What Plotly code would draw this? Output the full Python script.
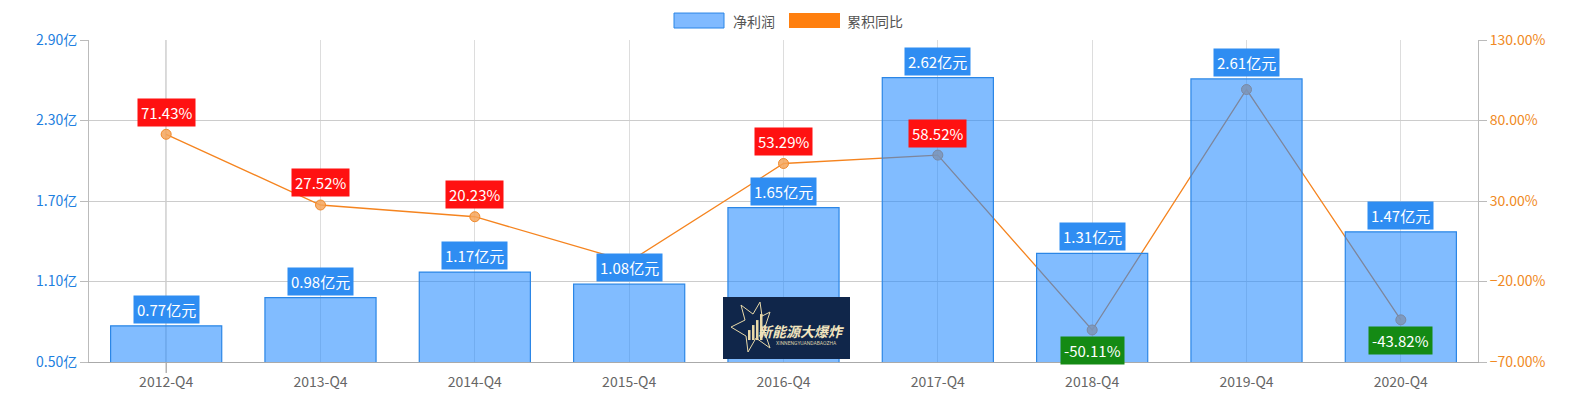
import plotly.graph_objects as go

categories = ["2012-Q4", "2013-Q4", "2014-Q4", "2015-Q4", "2016-Q4", "2017-Q4", "2018-Q4", "2019-Q4", "2020-Q4"]
net_profit = [0.77, 0.98, 1.17, 1.08, 1.65, 2.62, 1.31, 2.61, 1.47]          # 亿元
yoy_growth = [71.43, 27.52, 20.23, -7.69, 53.29, 58.52, -50.11, 99.24, -43.82]  # %
show_yoy_label = [True, True, True, False, True, True, True, False, True]

OFF = 8                      # page body margin
W, H = 1576 - 2 * OFF, 402 - 2 * OFF
L, R, T, B = 89, 1478, 39.5, 362   # plot area in screen pixels
FONT = "Noto Sans CJK SC, Microsoft YaHei, sans-serif"


def px(x):
    return (x - L) / (R - L)


def py(y):
    return (B - y) / (B - T)


fig = go.Figure()

# Line first (primary y, right side) so the translucent bars sit on top
fig.add_trace(go.Scatter(
    x=categories, y=yoy_growth, name="累积同比", yaxis="y",
    mode="lines+markers",
    line=dict(color="#F5841F", width=1.3),
    marker=dict(size=10, color="rgba(245,165,90,0.85)", line=dict(color="#F0892A", width=1)),
    showlegend=False,
))

fig.add_trace(go.Bar(
    x=categories, y=net_profit, name="净利润", yaxis="y2",
    marker=dict(color="rgba(30,136,255,0.56)", line=dict(color="#2B86E6", width=1.2)),
    showlegend=False,
))

annotations = []
for c, v in zip(categories, net_profit):
    annotations.append(dict(
        x=c, y=v, xref="x", yref="y2", yshift=16.5, showarrow=False,
        xanchor="center", yanchor="middle",
        text=f"{v:.2f}亿元", font=dict(color="white", size=15, family=FONT),
        bgcolor="#2F8DF2", borderpad=3,
    ))
for c, v, s in zip(categories, yoy_growth, show_yoy_label):
    if not s:
        continue
    annotations.append(dict(
        x=c, y=v, xref="x", yref="y", yshift=22 if v >= 0 else -21, showarrow=False,
        xanchor="center", yanchor="middle",
        text=f"{v:.2f}%", font=dict(color="white", size=15, family=FONT),
        bgcolor="#FF1111" if v >= 0 else "#148A14", borderpad=3,
    ))

# custom legend
annotations.append(dict(x=px(731), y=py(20), xref="paper", yref="paper", xanchor="left", yanchor="middle",
                        showarrow=False, text="净利润", font=dict(color="#555", size=14, family=FONT)))
annotations.append(dict(x=px(845), y=py(20), xref="paper", yref="paper", xanchor="left", yanchor="middle",
                        showarrow=False, text="累积同比", font=dict(color="#555", size=14, family=FONT)))
# watermark logo text
annotations.append(dict(x=px(802), y=py(331), xref="paper", yref="paper", xanchor="center", yanchor="middle",
                        showarrow=False, text="<b><i>新能源大爆炸</i></b>",
                        font=dict(color="#F1E4BE", size=14, family=FONT)))
annotations.append(dict(x=px(806), y=py(343), xref="paper", yref="paper", xanchor="center", yanchor="middle",
                        showarrow=False, text="XINNENGYUANDABAOZHA",
                        font=dict(color="#D8CCA8", size=5, family="Roboto")))

star = [(731, 327), (745, 320), (741, 305), (753, 314), (760, 302), (762, 316), (770, 312),
        (764, 330), (770, 348), (756, 338), (748, 352), (746, 336)]
star_path = "M " + " L ".join(f"{px(x)} {py(y)}" for x, y in star) + " Z"

shapes = [
    # crosshair on first category
    dict(type="line", xref="x", yref="paper", x0=categories[0], x1=categories[0], y0=py(373), y1=1,
         line=dict(color="#8C8C8C", width=1), layer="below"),
    # legend swatches
    dict(type="rect", xref="paper", yref="paper", x0=px(674), x1=px(724), y0=py(27.5), y1=py(12.5),
         fillcolor="#80BAFF", line=dict(color="#2B86E6", width=1)),
    dict(type="rect", xref="paper", yref="paper", x0=px(789), x1=px(840), y0=py(27.5), y1=py(12.5),
         fillcolor="#FF7F0E", line=dict(width=0)),
    # watermark logo box
    dict(type="rect", xref="paper", yref="paper", x0=px(723), x1=px(850), y0=py(359), y1=py(297),
         fillcolor="#10264A", line=dict(width=0), layer="above"),
    dict(type="path", xref="paper", yref="paper", layer="above", path=star_path,
         line=dict(color="#E8D9A8", width=1), fillcolor="rgba(0,0,0,0)"),
]
for bx, btop in [(748, 330), (752, 325), (756, 320), (760, 314)]:
    shapes.append(dict(type="rect", xref="paper", yref="paper", layer="above",
                       x0=px(bx), x1=px(bx + 2.5), y0=py(340), y1=py(btop),
                       fillcolor="#E8D9A8", line=dict(width=0)))

fig.update_layout(
    width=W, height=H,
    margin=dict(l=L - OFF, r=W - (R - OFF), t=T - OFF, b=H - (B - OFF), pad=0, autoexpand=False),
    paper_bgcolor="white", plot_bgcolor="white",
    bargap=0.28,
    showlegend=False,
    font=dict(family=FONT, size=14, color="#666"),
    xaxis=dict(
        type="category", showgrid=True, gridcolor="#DDDDDD", gridwidth=1,
        showline=True, linecolor="#AAAAAA", mirror=False, ticks="",
        tickfont=dict(color="#666", size=14), zeroline=False, automargin=False,
        ticklabelstandoff=7,
    ),
    yaxis=dict(
        side="right", range=[-70, 130], dtick=50, tick0=-70, tickformat=".2f", ticksuffix="%",
        tickfont=dict(color="#F08A24", size=14), showgrid=True, gridcolor="#CCCCCC",
        showline=True, linecolor="#BBBBBB", ticks="outside", ticklen=8, tickcolor="#BBBBBB",
        zeroline=False, automargin=False,
    ),
    yaxis2=dict(
        side="left", overlaying="y", range=[0.5, 2.9], dtick=0.6, tick0=0.5, tickformat=".2f", ticksuffix="亿",
        tickfont=dict(color="#1E7FE0", size=14), showgrid=False,
        showline=True, linecolor="#BBBBBB", ticks="outside", ticklen=8, tickcolor="#BBBBBB",
        zeroline=False, automargin=False,
    ),
    annotations=annotations,
    shapes=shapes,
)

fig.write_html("out.html")
